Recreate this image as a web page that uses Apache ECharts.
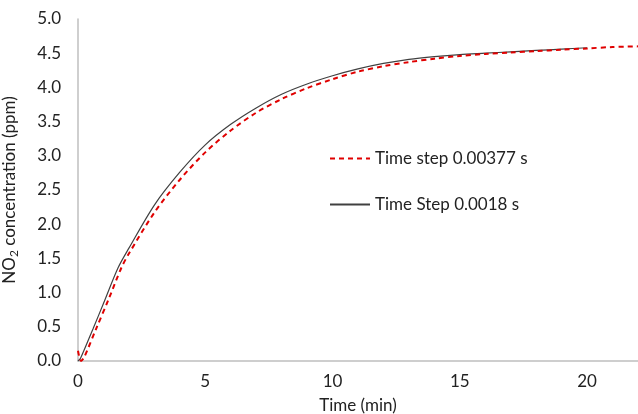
<!DOCTYPE html>
<html>
<head>
<meta charset="utf-8">
<script src="https://cdn.jsdelivr.net/npm/echarts@6/dist/echarts.min.js"></script>
<style>html,body{margin:0;padding:0;background:#fff}#c{width:638px;height:414px}</style>
</head>
<body>
<div id="c"></div>
<script>
// Time step 0.00377 s (red dashed)
var redT = [0, 0.12, 0.25, 0.7, 1.2, 1.7, 2, 3, 4, 5, 6, 7, 8, 9, 10, 11, 12, 13, 14, 15, 16, 17, 18, 19, 20, 21, 22];
var redY = [0.15, 0, 0.06, 0.46, 0.9, 1.36, 1.57, 2.17, 2.65, 3.05, 3.37, 3.63, 3.83, 3.99, 4.12, 4.23, 4.31, 4.37, 4.42, 4.46, 4.49, 4.51, 4.53, 4.55, 4.57, 4.59, 4.6];
// Time Step 0.0018 s (black solid)
var blkT = [0, 0.1, 0.6, 1.0, 1.57, 2, 3, 4, 5, 6, 7, 8, 9, 10, 11, 12, 13, 14, 15, 16, 17, 18, 19, 20];
var blkY = [0, 0.04, 0.48, 0.84, 1.36, 1.65, 2.28, 2.76, 3.16, 3.46, 3.70, 3.90, 4.05, 4.17, 4.27, 4.35, 4.41, 4.45, 4.48, 4.50, 4.52, 4.54, 4.56, 4.58];
var seriesNames = ['Time step 0.00377 s', 'Time Step 0.0018 s'];

function pairs(t, y) { return t.map(function (v, i) { return [v, y[i]]; }); }

var FONT = 'Lato, "Open Sans", sans-serif';
var chart = echarts.init(document.getElementById('c'));
chart.setOption({
  animation: false,
  backgroundColor: '#fff',
  grid: { left: 78, right: 0, top: 19, bottom: 53, containLabel: false, outerBoundsMode: 'none' },
  xAxis: {
    type: 'value', min: 0, max: 22, interval: 5,
    axisLine: { show: true, lineStyle: { color: '#bfbfbf', width: 1.5 } },
    axisTick: { show: false },
    splitLine: { show: false },
    axisLabel: { color: '#222', fontSize: 17, fontFamily: FONT, margin: 12, showMaxLabel: false },
    name: 'Time (min)', nameLocation: 'middle', nameGap: 36,
    nameTextStyle: { color: '#222', fontSize: 17, fontFamily: FONT }
  },
  yAxis: {
    type: 'value', min: 0, max: 5, interval: 0.5,
    axisLine: { show: true, lineStyle: { color: '#bfbfbf', width: 1.5 } },
    axisTick: { show: false },
    splitLine: { show: false },
    axisLabel: { color: '#222', fontSize: 17, fontFamily: FONT, margin: 17,
      formatter: function (v) { return v.toFixed(1); } },
    name: 'NO{sub|2} concentration (ppm)', nameLocation: 'middle', nameGap: 58, nameRotate: 90,
    nameTextStyle: { color: '#222', fontSize: 17, fontFamily: FONT,
      rich: { sub: { fontSize: 12, fontFamily: FONT, color: '#222', verticalAlign: 'bottom', padding: [9, 0, 0, 0] } } }
  },
  legend: {
    orient: 'vertical', left: 324, top: 145, itemGap: 29, itemWidth: 40, itemHeight: 16,
    itemStyle: { opacity: 0 },
    textStyle: { color: '#222', fontSize: 17, fontFamily: FONT },
    data: seriesNames
  },
  series: [
    { name: seriesNames[0], type: 'line', data: pairs(redT, redY), symbol: 'none', smooth: 0.3,
      lineStyle: { color: '#e00000', width: 2, type: [5, 4] }, itemStyle: { color: '#e00000' }, z: 3 },
    { name: seriesNames[1], type: 'line', data: pairs(blkT, blkY), symbol: 'none', smooth: 0.3,
      lineStyle: { color: '#404040', width: 1.2 }, itemStyle: { color: '#404040' }, z: 2 }
  ]
});
</script>
</body>
</html>
